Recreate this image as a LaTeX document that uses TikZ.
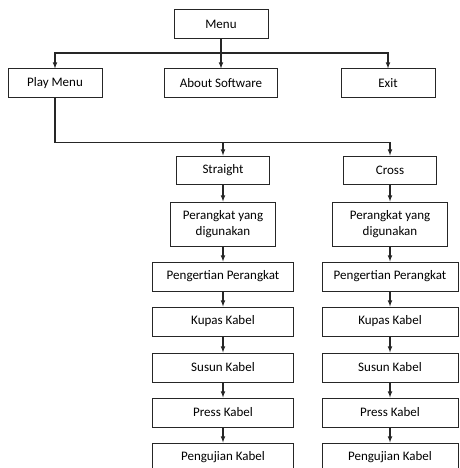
\documentclass[tikz,border=0pt]{standalone}
\usepackage{fontspec}
\setmainfont{Carlito}
\usetikzlibrary{arrows,positioning}

\begin{document}
\begin{tikzpicture}[
    x=1pt, y=-1pt,
    % Stili
    box/.style={
        rectangle, draw=black!85, line width=1pt,
        minimum height=29pt, inner sep=0pt, align=center,
        font=\fontsize{13}{16}\selectfont
    },
    menubox/.style={box, minimum width=94pt},
    stepbox/.style={box, minimum width=141pt},
    arrow/.style={->, >=latex, line width=1.1pt, black!85}
]
\useasboundingbox (0,0) rectangle (459,468);

% Menu utama
\node[menubox] (menu) at (221,24.5) {Menu};

\node[menubox] (playmenu) at (55,83.5) {Play Menu};
\node[box, minimum width=113pt] (about) at (221,83.5) {About Software};
\node[menubox] (exit) at (388,83.5) {Exit};

% Kolom Straight
\node[box, minimum width=93pt, minimum height=28pt] (straight) at (223,170) {Straight};
\node[box, minimum width=105pt, minimum height=44pt] (s_perangkat) at (223,224) {Perangkat yang\\digunakan};
\node[stepbox] (s_pengertian) at (223,276.5) {Pengertian Perangkat};
\node[stepbox] (s_kupas) at (223,321.5) {Kupas Kabel};
\node[stepbox] (s_susun) at (223,367.5) {Susun Kabel};
\node[stepbox] (s_press) at (223,412.5) {Press Kabel};
\node[stepbox] (s_uji) at (223,457.5) {Pengujian Kabel};

% Kolom Cross
\node[box, minimum width=93pt, minimum height=28pt] (cross) at (390,170) {Cross};
\node[box, minimum width=115pt, minimum height=44pt] (c_perangkat) at (390,224) {Perangkat yang\\digunakan};
\node[stepbox, minimum width=136pt] (c_pengertian) at (390,276.5) {Pengertian Perangkat};
\node[stepbox, minimum width=136pt] (c_kupas) at (390,321.5) {Kupas Kabel};
\node[stepbox, minimum width=136pt] (c_susun) at (390,367.5) {Susun Kabel};
\node[stepbox, minimum width=136pt] (c_press) at (390,412.5) {Press Kabel};
\node[stepbox, minimum width=136pt] (c_uji) at (390,457.5) {Pengujian Kabel};

% Menu ke submenu
\draw[arrow] (menu.south) -- ++(0,13.5) -| (playmenu.north);
\draw[arrow] (menu.south) -- (about.north);
\draw[arrow] (menu.south) -- ++(0,13.5) -| (exit.north);

% Play Menu ke Straight / Cross
\draw[arrow] (playmenu.south) -- ++(0,44) -| (straight.north);
\draw[arrow] (playmenu.south) -- ++(0,44) -| (cross.north);

% Alur langkah
\foreach \col in {s,c} {
    \foreach \a/\b in {perangkat/pengertian,pengertian/kupas,kupas/susun,susun/press,press/uji} {
        \draw[arrow] (\col_\a.south) -- (\col_\b.north);
    }
}
\draw[arrow] (straight) -- (s_perangkat);
\draw[arrow] (cross) -- (c_perangkat);

\end{tikzpicture}
\end{document}
